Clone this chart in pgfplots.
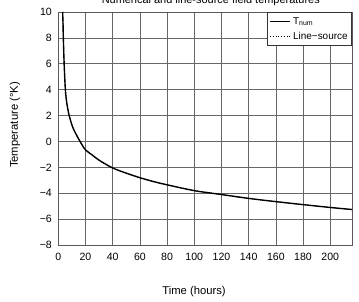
\documentclass[border=0pt]{standalone}
\usepackage{pgfplots}
\pgfplotsset{compat=1.18}
\usepackage{fontspec}
\setmainfont{Liberation Sans}

% Numerical ground temperature (hours vs. degrees)
\pgfplotstableread{
t     T
3.2   10
3.5   9
3.7   8
4.3   6
5.2   4
6.2   3
8     2
11    1
16    0
20   -0.65
25   -1.05
30   -1.45
40   -2.05
50   -2.45
60   -2.8
70   -3.1
80   -3.35
100  -3.8
120  -4.1
140  -4.4
160  -4.65
180  -4.88
200  -5.1
216  -5.26
}\numdata

\begin{document}
\begin{tikzpicture}[x=1bp,y=1bp]
\begin{axis}[
  at={(58.3bp,57bp)}, anchor=south west,
  width=293.7bp, height=233bp, scale only axis,
  xmin=0, xmax=216, ymin=-8, ymax=10,
  xtick={0,20,...,200}, ytick={-8,-6,...,10},
  yticklabels={−8,−6,−4,−2,0,2,4,6,8,10},
  grid=major,
  major grid style={black!60, line width=0.65pt},
  axis line style={black!65, line width=0.9pt},
  tick style={draw=none},
  /pgf/number format/assume math mode=true,
  ticklabel style={font=\fontsize{10.6}{12}\selectfont},
  xticklabel style={yshift=-5pt},
  yticklabel style={xshift=-3pt},
  legend style={at={(1,1)}, anchor=north east, draw=black!80, line width=0.7pt,
    font=\fontsize{10}{12}\selectfont, inner xsep=1.5pt, inner ysep=4pt, row sep=4.5pt,
    nodes={inner xsep=2.5pt, inner ysep=1pt}},
  legend cell align=left,
  legend image code/.code={\draw[#1] (0bp,0bp) -- (20bp,0bp);},
]
\addplot[black, line width=1.4pt, smooth] table[x=t, y=T] {\numdata};
\addlegendentry{T\textsubscript{num}\hspace{3pt}}
\addplot[black, dotted, line width=0.8pt, smooth] table[x=t, y=T] {\numdata};
\addlegendentry{Line\textminus source\hspace{3pt}}
\end{axis}
\node[anchor=base, font=\fontsize{11}{13}\selectfont] at (210.8,298.7) {Numerical and line-source field temperatures};
\node[anchor=base, font=\fontsize{11.3}{13}\selectfont] at (194,8) {Time (hours)};
\node[rotate=90, font=\fontsize{11.3}{13}\selectfont] at (15,177) {Temperature (\textdegree K)};
\pgfresetboundingbox
\useasboundingbox (0,0) rectangle (359,302);
\end{tikzpicture}
\end{document}
